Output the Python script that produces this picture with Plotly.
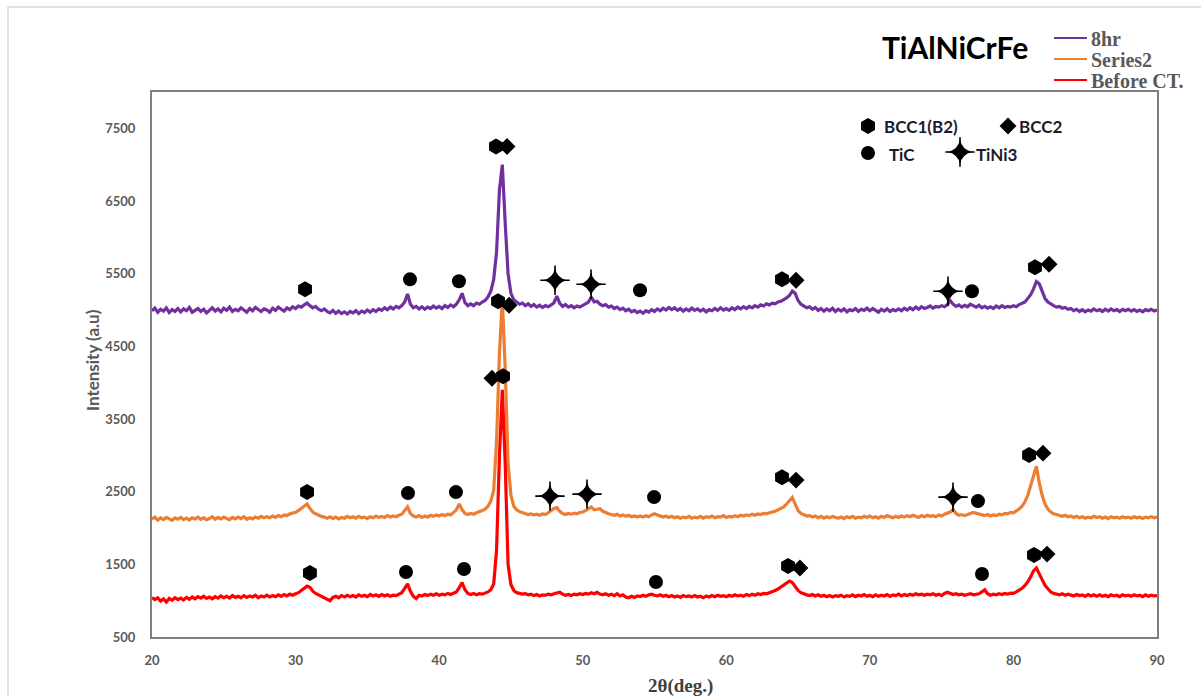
import plotly.graph_objects as go

# ---------------------------------------------------------------------------
# XRD patterns of TiAlNiCrFe: intensity (a.u.) on a common 0.2 deg 2-theta grid
# ---------------------------------------------------------------------------
two_theta = [
    20.0, 20.2, 20.4, 20.6, 20.8, 21.0, 21.2, 21.4, 21.6, 21.8,
    22.0, 22.2, 22.4, 22.6, 22.8, 23.0, 23.2, 23.4, 23.6, 23.8,
    24.0, 24.2, 24.4, 24.6, 24.8, 25.0, 25.2, 25.4, 25.6, 25.8,
    26.0, 26.2, 26.4, 26.6, 26.8, 27.0, 27.2, 27.4, 27.6, 27.8,
    28.0, 28.2, 28.4, 28.6, 28.8, 29.0, 29.2, 29.4, 29.6, 29.8,
    30.0, 30.2, 30.4, 30.6, 30.8, 31.0, 31.2, 31.4, 31.6, 31.8,
    32.0, 32.2, 32.4, 32.6, 32.8, 33.0, 33.2, 33.4, 33.6, 33.8,
    34.0, 34.2, 34.4, 34.6, 34.8, 35.0, 35.2, 35.4, 35.6, 35.8,
    36.0, 36.2, 36.4, 36.6, 36.8, 37.0, 37.2, 37.4, 37.6, 37.8,
    38.0, 38.2, 38.4, 38.6, 38.8, 39.0, 39.2, 39.4, 39.6, 39.8,
    40.0, 40.2, 40.4, 40.6, 40.8, 41.0, 41.2, 41.4, 41.6, 41.8,
    42.0, 42.2, 42.4, 42.6, 42.8, 43.0, 43.2, 43.4, 43.6, 43.8,
    44.0, 44.2, 44.4, 44.6, 44.8, 45.0, 45.2, 45.4, 45.6, 45.8,
    46.0, 46.2, 46.4, 46.6, 46.8, 47.0, 47.2, 47.4, 47.6, 47.8,
    48.0, 48.2, 48.4, 48.6, 48.8, 49.0, 49.2, 49.4, 49.6, 49.8,
    50.0, 50.2, 50.4, 50.6, 50.8, 51.0, 51.2, 51.4, 51.6, 51.8,
    52.0, 52.2, 52.4, 52.6, 52.8, 53.0, 53.2, 53.4, 53.6, 53.8,
    54.0, 54.2, 54.4, 54.6, 54.8, 55.0, 55.2, 55.4, 55.6, 55.8,
    56.0, 56.2, 56.4, 56.6, 56.8, 57.0, 57.2, 57.4, 57.6, 57.8,
    58.0, 58.2, 58.4, 58.6, 58.8, 59.0, 59.2, 59.4, 59.6, 59.8,
    60.0, 60.2, 60.4, 60.6, 60.8, 61.0, 61.2, 61.4, 61.6, 61.8,
    62.0, 62.2, 62.4, 62.6, 62.8, 63.0, 63.2, 63.4, 63.6, 63.8,
    64.0, 64.2, 64.4, 64.6, 64.8, 65.0, 65.2, 65.4, 65.6, 65.8,
    66.0, 66.2, 66.4, 66.6, 66.8, 67.0, 67.2, 67.4, 67.6, 67.8,
    68.0, 68.2, 68.4, 68.6, 68.8, 69.0, 69.2, 69.4, 69.6, 69.8,
    70.0, 70.2, 70.4, 70.6, 70.8, 71.0, 71.2, 71.4, 71.6, 71.8,
    72.0, 72.2, 72.4, 72.6, 72.8, 73.0, 73.2, 73.4, 73.6, 73.8,
    74.0, 74.2, 74.4, 74.6, 74.8, 75.0, 75.2, 75.4, 75.6, 75.8,
    76.0, 76.2, 76.4, 76.6, 76.8, 77.0, 77.2, 77.4, 77.6, 77.8,
    78.0, 78.2, 78.4, 78.6, 78.8, 79.0, 79.2, 79.4, 79.6, 79.8,
    80.0, 80.2, 80.4, 80.6, 80.8, 81.0, 81.2, 81.4, 81.6, 81.8,
    82.0, 82.2, 82.4, 82.6, 82.8, 83.0, 83.2, 83.4, 83.6, 83.8,
    84.0, 84.2, 84.4, 84.6, 84.8, 85.0, 85.2, 85.4, 85.6, 85.8,
    86.0, 86.2, 86.4, 86.6, 86.8, 87.0, 87.2, 87.4, 87.6, 87.8,
    88.0, 88.2, 88.4, 88.6, 88.8, 89.0, 89.2, 89.4, 89.6, 89.8,
    90.0,
]

intensity_8hr = [
    4990, 5025, 4970, 5010, 4985, 5030, 4965, 5005, 4980, 5020,
    4975, 5015, 4990, 5035, 4970, 5000, 5020, 4980, 5010, 4960,
    5000, 5030, 4985, 5015, 4975, 5025, 4995, 5040, 4980, 5010,
    4990, 5030, 5000, 4970, 5020, 4990, 5035, 5005, 4980, 5015,
    5000, 4970, 5025, 4995, 5040, 5010, 4985, 5030, 5005, 5045,
    5020, 5055, 5040, 5070, 5095, 5060, 5030, 5050, 5010, 4990,
    5015, 4980, 4960, 4995, 4955, 4985, 4950, 4975, 4945, 4980,
    4960, 4990, 4950, 4985, 4965, 5000, 4970, 5005, 4980, 5015,
    4995, 5030, 5005, 5040, 5015, 5050, 5030, 5060, 5110, 5220,
    5080, 5030, 5050, 5015, 5045, 5010, 5040, 5020, 5055, 5025,
    5050, 5020, 5060, 5035, 5070, 5045, 5080, 5140, 5230, 5100,
    5060, 5085, 5060, 5095, 5080, 5110, 5130, 5180, 5260, 5420,
    5800, 6650, 7000, 6200, 5500, 5230, 5140, 5110, 5080, 5095,
    5060, 5085, 5050, 5075, 5040, 5065, 5035, 5060, 5045, 5070,
    5100, 5190, 5090, 5050, 5075, 5040, 5060, 5030, 5055, 5040,
    5060, 5080, 5110, 5180, 5110, 5120, 5080, 5060, 5075, 5040,
    5055, 5020, 5040, 5005, 5025, 4990, 5010, 4975, 4995, 4965,
    4985, 4955, 4990, 4970, 5005, 4980, 5015, 4990, 5025, 5000,
    5035, 5005, 5030, 4995, 5020, 4985, 5015, 4990, 5025, 4995,
    5015, 4985, 5010, 4975, 5005, 4990, 5020, 4995, 5030, 5000,
    5020, 4995, 5030, 5005, 5040, 5015, 5045, 5020, 5050, 5030,
    5060, 5040, 5070, 5055, 5085, 5070, 5095, 5085, 5110, 5120,
    5140, 5165, 5200, 5260, 5230, 5130, 5080, 5050, 5030, 5045,
    5010, 5035, 4995, 5020, 4985, 5015, 4990, 5025, 4980, 5010,
    4985, 5015, 4975, 5005, 4990, 5020, 4980, 5010, 4995, 5025,
    4990, 5020, 5000, 4970, 5010, 4985, 5015, 4980, 5005, 4990,
    5015, 4990, 5025, 5000, 5030, 5005, 5040, 5010, 5045, 5020,
    5035, 5055, 5025, 5050, 5040, 5060, 5045, 5075, 5130, 5080,
    5050, 5070, 5040, 5065, 5045, 5080, 5060, 5040, 5065, 5030,
    5050, 5025, 5045, 5020, 5055, 5030, 5060, 5035, 5050, 5040,
    5060, 5045, 5075, 5090, 5110, 5160, 5210, 5290, 5390, 5360,
    5250, 5160, 5110, 5080, 5060, 5040, 5050, 5025, 5035, 5010,
    5020, 4990, 5010, 4980, 5005, 4975, 5000, 4985, 5015, 4990,
    5005, 4980, 5010, 4985, 5015, 4990, 5005, 4980, 5010, 4990,
    5010, 4985, 5005, 4980, 5000, 4975, 5005, 4990, 5010, 4985,
    5000,
]

intensity_series2 = [
    2120, 2150, 2110, 2140, 2115, 2145, 2125, 2105, 2140, 2120,
    2145, 2115, 2135, 2110, 2140, 2125, 2150, 2120, 2140, 2115,
    2130, 2155, 2120, 2145, 2125, 2150, 2130, 2115, 2145, 2125,
    2150, 2130, 2155, 2120, 2140, 2125, 2150, 2135, 2160, 2140,
    2155, 2140, 2165, 2145, 2170, 2155, 2180, 2170, 2195, 2200,
    2215, 2240, 2270, 2300, 2330, 2270, 2220, 2195, 2175, 2160,
    2150, 2135, 2155, 2130, 2150, 2125, 2145, 2135, 2160, 2140,
    2155, 2135, 2160, 2140, 2150, 2130, 2155, 2140, 2165, 2145,
    2160, 2145, 2170, 2150, 2165, 2155, 2175, 2190, 2240, 2290,
    2200, 2165, 2150, 2170, 2145, 2165, 2150, 2175, 2160, 2180,
    2165, 2185, 2170, 2190, 2180, 2210, 2250, 2330, 2250, 2200,
    2185, 2200, 2190, 2210, 2220, 2240, 2260, 2300, 2370, 2520,
    3200, 4400, 5150, 4200, 2900, 2450, 2300, 2250, 2225, 2210,
    2200, 2185, 2195, 2180, 2190, 2175, 2195, 2185, 2210, 2240,
    2270, 2280, 2230, 2200, 2185, 2200, 2190, 2205, 2195, 2215,
    2220, 2240, 2270, 2290, 2250, 2260, 2265, 2230, 2210, 2195,
    2185, 2175, 2190, 2165, 2180, 2160, 2175, 2155, 2165, 2150,
    2165, 2150, 2170, 2155, 2180, 2195, 2180, 2165, 2150, 2165,
    2145, 2160, 2140, 2155, 2135, 2150, 2140, 2160, 2135, 2150,
    2140, 2160, 2135, 2155, 2145, 2165, 2140, 2155, 2150, 2170,
    2145, 2160, 2150, 2170, 2155, 2175, 2165, 2180, 2170, 2190,
    2175, 2195, 2185, 2200, 2195, 2210, 2215, 2230, 2250, 2270,
    2290, 2330, 2380, 2420, 2330, 2240, 2200, 2180, 2165, 2170,
    2150, 2165, 2140, 2160, 2135, 2155, 2140, 2160, 2145, 2135,
    2150, 2130, 2155, 2140, 2160, 2135, 2150, 2140, 2160, 2145,
    2165, 2140, 2155, 2135, 2160, 2145, 2170, 2150, 2140, 2160,
    2145, 2165, 2150, 2170, 2155, 2175, 2160, 2145, 2170, 2155,
    2175, 2160, 2170, 2155, 2180, 2165, 2190, 2205, 2220, 2255,
    2200, 2175, 2185, 2170, 2190, 2200, 2215, 2205, 2190, 2175,
    2170, 2185, 2165, 2180, 2170, 2190, 2180, 2200, 2195, 2215,
    2210, 2235, 2260, 2300, 2360, 2450, 2580, 2740, 2850, 2620,
    2450, 2330, 2260, 2220, 2195, 2185, 2170, 2160, 2175, 2155,
    2165, 2145, 2160, 2140, 2155, 2135, 2150, 2140, 2160, 2145,
    2155, 2135, 2150, 2130, 2155, 2140, 2150, 2135, 2155, 2140,
    2150, 2135, 2155, 2140, 2150, 2130, 2150, 2140, 2155, 2140,
    2150,
]

intensity_before = [
    1045, 1015, 1040, 995, 1025, 980, 1030, 1005, 1040, 1015,
    1035, 1010, 1045, 1020, 1050, 1025, 1055, 1035, 1060, 1030,
    1050, 1025, 1055, 1035, 1065, 1040, 1060, 1035, 1070, 1045,
    1060, 1040, 1070, 1045, 1065, 1050, 1075, 1040, 1065, 1050,
    1075, 1050, 1070, 1055, 1080, 1060, 1085, 1065, 1090, 1075,
    1095, 1110, 1140, 1170, 1200, 1185, 1130, 1100, 1080, 1060,
    1045, 1020, 1000, 1045, 1060, 1040, 1070, 1050, 1075, 1055,
    1070, 1050, 1080, 1060, 1075, 1055, 1085, 1065, 1080, 1060,
    1085, 1065, 1080, 1060, 1075, 1070, 1090, 1110, 1170, 1230,
    1130, 1060, 1030, 1075, 1065, 1085, 1070, 1090, 1075, 1095,
    1075, 1090, 1080, 1100, 1085, 1105, 1120, 1180, 1250, 1150,
    1100, 1085, 1100, 1080, 1095, 1090, 1105, 1120, 1150, 1230,
    1700, 3000, 3900, 2900, 1500, 1220, 1140, 1110, 1100, 1090,
    1095, 1080, 1090, 1070, 1085, 1065, 1080, 1075, 1090, 1080,
    1095, 1105, 1115, 1090, 1075, 1085, 1070, 1090, 1080, 1095,
    1085, 1100, 1090, 1110, 1095, 1115, 1090, 1080, 1095, 1075,
    1090, 1070, 1095, 1065, 1080, 1050, 1040, 1060, 1045, 1065,
    1055, 1075, 1060, 1080, 1090, 1075, 1065, 1080, 1060, 1075,
    1055, 1070, 1050, 1065, 1045, 1070, 1055, 1065, 1050, 1070,
    1050, 1060, 1040, 1065, 1050, 1070, 1055, 1075, 1060, 1070,
    1055, 1075, 1060, 1080, 1065, 1075, 1060, 1085, 1070, 1090,
    1075, 1095, 1085, 1100, 1095, 1110, 1120, 1140, 1160, 1190,
    1210, 1240, 1270, 1250, 1190, 1140, 1110, 1090, 1080, 1070,
    1085, 1065, 1080, 1060, 1075, 1055, 1070, 1050, 1070, 1060,
    1075, 1050, 1070, 1060, 1080, 1055, 1075, 1065, 1085, 1060,
    1075, 1055, 1080, 1060, 1075, 1065, 1085, 1060, 1080, 1070,
    1090, 1065, 1085, 1070, 1090, 1075, 1095, 1080, 1090, 1075,
    1090, 1080, 1095, 1075, 1090, 1070, 1100, 1115, 1095, 1085,
    1095, 1080, 1090, 1075, 1085, 1095, 1080, 1090, 1095, 1120,
    1150, 1095, 1075, 1090, 1080, 1095, 1085, 1100, 1090, 1105,
    1100, 1120, 1140, 1170, 1210, 1260, 1330, 1410, 1450, 1380,
    1290, 1210, 1160, 1120, 1100, 1090, 1080, 1095, 1075, 1090,
    1080, 1065, 1085, 1070, 1080, 1060, 1085, 1065, 1080, 1060,
    1080, 1060, 1075, 1055, 1080, 1065, 1075, 1055, 1080, 1065,
    1075, 1060, 1080, 1065, 1075, 1055, 1080, 1060, 1075, 1065,
    1070,
]

series_names = ["8hr", "Series2", "Before CT."]

# Phase identification marks (2-theta, intensity) above the reflections
bcc1_theta = [30.66, 43.96, 63.88, 81.50, 44.10, 30.80, 63.88, 81.09, 44.45, 31.00, 64.30, 81.43]
bcc1_int = [5285, 7251, 5422, 5587, 5120, 2494, 2700, 3003, 4089, 1380, 1476, 1627]
bcc2_theta = [44.73, 64.86, 82.48, 44.87, 64.86, 82.06, 43.68, 65.13, 82.34]
bcc2_int = [7251, 5409, 5629, 5065, 2659, 3030, 4061, 1449, 1641]
tic_theta = [37.97, 41.38, 53.99, 77.11, 37.83, 41.17, 54.97, 77.53, 37.69, 41.73, 55.10, 77.81]
tic_int = [5422, 5395, 5271, 5257, 2480, 2494, 2425, 2370, 1394, 1435, 1256, 1366]
tini3_theta = [48.07, 50.58, 75.44, 47.72, 50.30, 75.79]
tini3_int = [5409, 5354, 5257, 2439, 2466, 2425]

phase_names = ["BCC1(B2)", "BCC2", "TiC", "TiNi3"]

x_ticks = [20, 30, 40, 50, 60, 70, 80, 90]
y_ticks = [500, 1500, 2500, 3500, 4500, 5500, 6500, 7500]

assert len(intensity_8hr) == len(intensity_series2) == len(intensity_before) == len(two_theta)

# ---------------------------------------------------------------------------
W, H = 1201, 696
L, R, T, B = 152, 44, 92, 59          # plot-area margins (px)
PW, PH = W - L - R, H - T - B
X0, X1, Y0, Y1 = 20, 90, 500, 8000


def px(xp):
    """pixel column -> paper x"""
    return (xp - L) / PW


def py(yp):
    """pixel row -> paper y"""
    return (H - B - yp) / PH


line_colors = ["#7030A0", "#ED7D31", "#FF0000"]
fig = go.Figure()

for name, ys, col in zip(series_names,
                         [intensity_8hr, intensity_series2, intensity_before],
                         line_colors):
    fig.add_trace(go.Scatter(
        x=two_theta, y=ys, mode="lines", name=name, showlegend=False,
        line=dict(color=col, width=3.2),
    ))


def add_phase_marks(xs, ys, sym):
    """Black identification symbols; the four-point star is a concave star
    with thin extended arms."""
    if sym == "star":
        fig.add_trace(go.Scatter(
            x=xs, y=ys, mode="markers", showlegend=False, hoverinfo="skip",
            marker=dict(symbol="cross-thin", size=21, color="black",
                        line=dict(width=1.6, color="black")),
        ))
        fig.add_trace(go.Scatter(
            x=xs, y=ys, mode="markers", showlegend=False,
            marker=dict(symbol="star-diamond", size=17, color="black", line=dict(width=0)),
        ))
    else:
        size = {"hexagon": 16, "diamond": 13, "circle": 14}[sym]
        fig.add_trace(go.Scatter(
            x=xs, y=ys, mode="markers", showlegend=False,
            marker=dict(symbol=sym, size=size, color="black", line=dict(width=0)),
        ))


phase_symbols = ["hexagon", "diamond", "circle", "star"]
for xs, ys, sym in zip([bcc1_theta, bcc2_theta, tic_theta, tini3_theta],
                       [bcc1_int, bcc2_int, tic_int, tini3_int],
                       phase_symbols):
    add_phase_marks(xs, ys, sym)

# Phase key inside the plot area (symbol + label)
key_sym_px = [(868, 126), (1008, 126), (868, 153), (960, 152)]
key_txt_px = [(882, 127), (1017, 127), (887, 155), (974, 155)]
for (kx, ky), sym in zip(key_sym_px, phase_symbols):
    add_phase_marks([X0 + px(kx) * (X1 - X0)], [Y0 + py(ky) * (Y1 - Y0)], sym)

annotations = []
for name, (tx, ty) in zip(phase_names, key_txt_px):
    annotations.append(dict(
        text=name, xref="paper", yref="paper", x=px(tx), y=py(ty),
        xanchor="left", yanchor="middle", showarrow=False,
        font=dict(family="Lato", size=17, color="#1a1a2a", weight="bold"),
    ))

# Series key in the top-right corner
legend_rows_px = [38, 59, 80]
shapes = []
for name, col, ly in zip(series_names, line_colors, legend_rows_px):
    shapes.append(dict(type="line", xref="paper", yref="paper",
                       x0=px(1054), x1=px(1087), y0=py(ly), y1=py(ly),
                       line=dict(color=col, width=2)))
    annotations.append(dict(
        text=name, xref="paper", yref="paper", x=px(1089), y=py(ly + 1),
        xanchor="left", yanchor="middle", showarrow=False,
        font=dict(family="Liberation Serif", size=20, color="#595959", weight="bold"),
    ))

annotations += [
    dict(text="TiAlNiCrFe", xref="paper", yref="paper", x=px(955), y=py(47),
         xanchor="center", yanchor="middle", showarrow=False,
         font=dict(family="Lato", size=30, color="#000000", weight="bold")),
    dict(text="Intensity (a.u)", xref="paper", yref="paper", x=px(92), y=py(360),
         xanchor="center", yanchor="middle", textangle=-90, showarrow=False,
         font=dict(family="Lato", size=17, color="#595959", weight="bold")),
    dict(text="2θ(deg.)", xref="paper", yref="paper", x=px(680), y=py(686),
         xanchor="center", yanchor="middle", showarrow=False,
         font=dict(family="Liberation Serif", size=19, color="#404040", weight="bold")),
]

# light outer frame of the chart area
shapes.append(dict(type="rect", xref="paper", yref="paper",
                   x0=px(8), y0=py(710), x1=px(1215), y1=py(7),
                   line=dict(color="#d9d9d9", width=1.5), layer="below"))

axis_common = dict(
    showgrid=False, zeroline=False, showline=True, mirror=True,
    linecolor="#7f7f7f", linewidth=2, ticks="",
    tickfont=dict(family="Lato", size=13, color="#595959", weight="bold"),
)

fig.update_layout(
    width=W, height=H,
    margin=dict(l=L, r=R, t=T, b=B, pad=0),
    paper_bgcolor="white", plot_bgcolor="white",
    showlegend=False,
    annotations=annotations,
    shapes=shapes,
    xaxis=dict(range=[X0, X1], tickvals=x_ticks, ticktext=[str(v) for v in x_ticks],
               ticklabelstandoff=10, **axis_common),
    yaxis=dict(range=[Y0, Y1], tickvals=y_ticks, ticktext=[str(v) for v in y_ticks],
               ticklabelstandoff=12, **axis_common),
)

fig.write_html("out.html")
